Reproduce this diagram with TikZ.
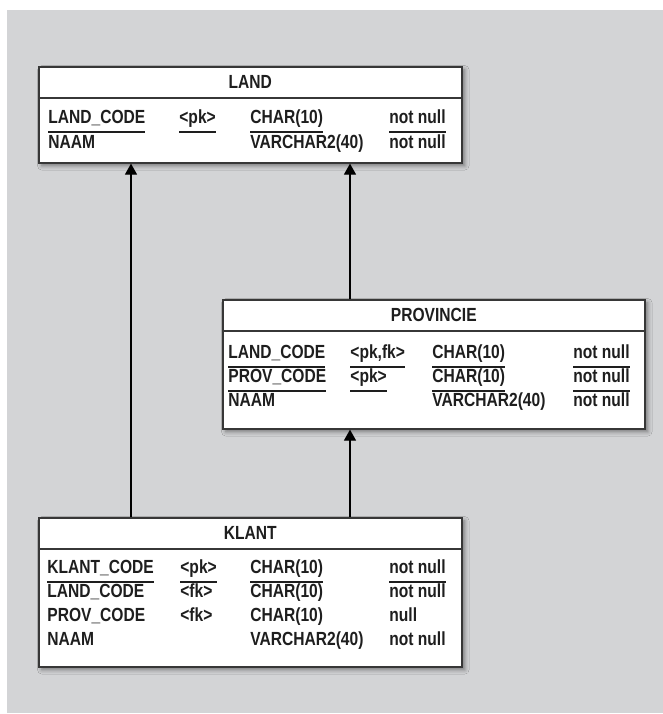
\documentclass[tikz,border=0pt]{standalone}
\usepackage{fontspec}
\setmainfont[FakeStretch=0.82]{Liberation Sans}
\usetikzlibrary{arrows.meta, positioning, shadows.blur, calc}
\definecolor{Canvas}{RGB}{211, 212, 214}
\definecolor{Edge}{RGB}{55, 55, 55}
\definecolor{Ink}{RGB}{30, 30, 30}
\newcommand{\keyul}[1]{\setbox0=\hbox{#1}\rlap{\copy0}\rule[-4.85pt]{\wd0}{0.7pt}}

\begin{document}
\begin{tikzpicture}[x=0.5pt, y=-0.5pt,
    table/.style={draw=Edge, line width=0.8pt, fill=white, inner sep=0pt, anchor=north west,
        blur shadow={shadow xshift=1.5pt, shadow yshift=-1.5pt, shadow blur steps=6, shadow opacity=45}},
    divider/.style={draw=Edge, line width=0.8pt},
    title/.style={inner sep=0pt, text=Ink, font=\fontsize{9.5}{11}\selectfont\bfseries},
    cell/.style={anchor=base west, inner sep=0pt, text=Ink, font=\fontsize{9.5}{11}\selectfont\bfseries},
    fk/.style={draw=black, line width=0.6pt, -{Triangle[length=5.5pt, width=6pt]}}]
    \useasboundingbox (0,0) rectangle (663,714);
    \fill[Canvas] (7,10) rectangle (663,713);

    % LAND
    \node[table, minimum width=211.5pt, minimum height=48pt] (land) at (38,66) {};
    \draw[divider] ([yshift=-16pt]land.north west) -- ([yshift=-16pt]land.north east);
    \node[title] (land-title) at ([yshift=-8pt]land.north) {LAND};
    \foreach \fname/\fkey/\ftype/\fnull [count=\i] in
        {{\keyul{LAND\_CODE}}/{\keyul{<pk>}}/{\keyul{CHAR(10)}}/{\keyul{not null}},
         NAAM/{}/VARCHAR2(40)/not null} {
        \node[cell] (land-\i-a) at ($(land.north west)+(10,32+25*\i)$) {\fname};
        \node[cell] (land-\i-b) at ($(land.north west)+(141,32+25*\i)$) {\fkey};
        \node[cell] (land-\i-c) at ($(land.north west)+(212,32+25*\i)$) {\ftype};
        \node[cell] (land-\i-d) at ($(land.north west)+(351,32+25*\i)$) {\fnull};
    }

    % PROVINCIE
    \node[table, minimum width=211pt, minimum height=64.5pt] (provincie) at (222,299) {};
    \draw[divider] ([yshift=-16pt]provincie.north west) -- ([yshift=-16pt]provincie.north east);
    \node[title] (provincie-title) at ([yshift=-8pt]provincie.north) {PROVINCIE};
    \foreach \fname/\fkey/\ftype/\fnull [count=\i] in
        {{\keyul{LAND\_CODE}}/{\keyul{<pk,fk>}}/{\keyul{CHAR(10)}}/{\keyul{not null}},
         {\keyul{PROV\_CODE}}/{\keyul{<pk>}}/{\keyul{CHAR(10)}}/{\keyul{not null}},
         NAAM/{}/VARCHAR2(40)/not null} {
        \node[cell] (provincie-\i-a) at ($(provincie.north west)+(6,35+24*\i)$) {\fname};
        \node[cell] (provincie-\i-b) at ($(provincie.north west)+(128,35+24*\i)$) {\fkey};
        \node[cell] (provincie-\i-c) at ($(provincie.north west)+(210,35+24*\i)$) {\ftype};
        \node[cell] (provincie-\i-d) at ($(provincie.north west)+(351,35+24*\i)$) {\fnull};
    }

    % KLANT
    \node[table, minimum width=211.5pt, minimum height=74.5pt] (klant) at (38,517) {};
    \draw[divider] ([yshift=-16pt]klant.north west) -- ([yshift=-16pt]klant.north east);
    \node[title] (klant-title) at ([yshift=-8pt]klant.north) {KLANT};
    \foreach \fname/\fkey/\ftype/\fnull [count=\i] in
        {{\keyul{KLANT\_CODE}}/{\keyul{<pk>}}/{\keyul{CHAR(10)}}/{\keyul{not null}},
         LAND\_CODE/<fk>/CHAR(10)/not null,
         PROV\_CODE/<fk>/CHAR(10)/null,
         NAAM/{}/VARCHAR2(40)/not null} {
        \node[cell] (klant-\i-a) at ($(klant.north west)+(9,32+24*\i)$) {\fname};
        \node[cell] (klant-\i-b) at ($(klant.north west)+(142,32+24*\i)$) {\fkey};
        \node[cell] (klant-\i-c) at ($(klant.north west)+(212,32+24*\i)$) {\ftype};
        \node[cell] (klant-\i-d) at ($(klant.north west)+(351,32+24*\i)$) {\fnull};
    }

    % references
    \draw[fk] ([xshift=46.5pt]klant.north west) -- ([xshift=46.5pt]land.south west);
    \draw[fk] ([xshift=64pt]provincie.north west) -- ([xshift=156pt]land.south west);
    \draw[fk] ([xshift=156pt]klant.north west) -- ([xshift=64pt]provincie.south west);
\end{tikzpicture}
\end{document}
